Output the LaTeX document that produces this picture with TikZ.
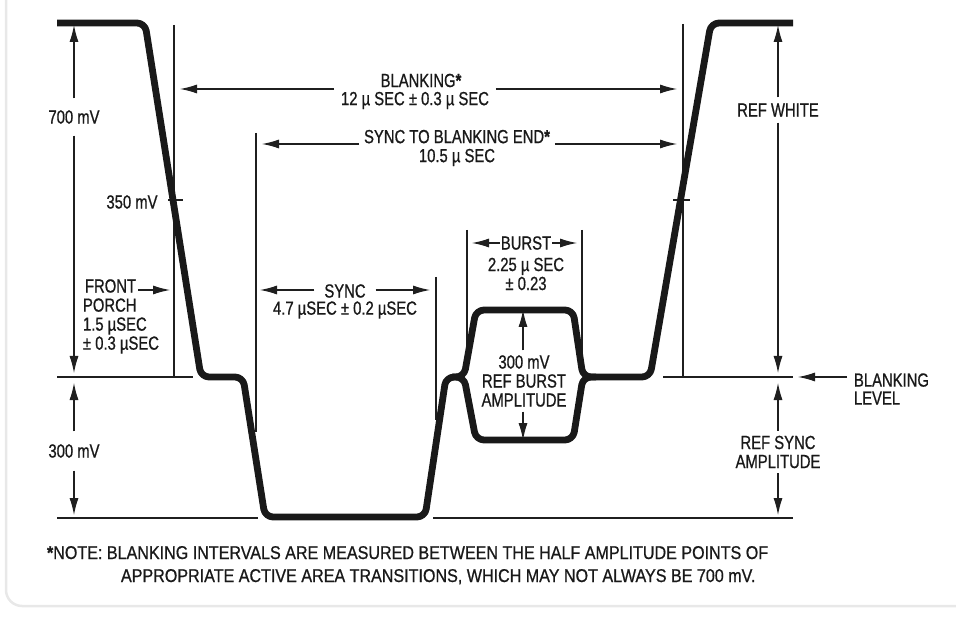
\documentclass[tikz,border=0pt]{standalone}
\usepackage{fontspec}
\setmainfont{Liberation Sans}[FakeStretch=0.78,FakeBold=0.8]
\newfontfamily\notefont{Liberation Sans}[FakeStretch=0.87,FakeBold=0.8]
\usetikzlibrary{arrows.meta}
\begin{document}
\begin{tikzpicture}[x=1pt,y=-1pt,
  wave/.style={line width=6.8pt, rounded corners=8pt, line join=round, draw=black!90},
  thin/.style={line width=1.1pt, draw=black!88},
  arr/.style={thin, -{Latex[length=17pt,width=9pt]}},
  lbl/.style={inner sep=0pt, outer sep=6pt, align=center, text=black!90, font=\fontsize{19}{19}\selectfont},
]
\useasboundingbox (0,0) rectangle (956,620);
% card edge
\draw[black!9, line width=2.5pt, rounded corners=16pt] (6,-30) -- (6,606) -- (990,606);

% ---- thin reference lines
\draw[thin] (57,377) -- (193,377);
\draw[thin] (57,518) -- (258,518);
\draw[thin] (663,377) -- (793,377);
\draw[thin] (433,518) -- (793,518);
\draw[thin] (168,200) -- (183,200);
\draw[thin] (673,200) -- (690,200);
\draw[thin] (174,25) -- (174,377);
\draw[thin] (683,24) -- (683,377);
\draw[thin] (256,133) -- (256,432);
\draw[thin] (436,277) -- (436,420);
\draw[thin] (467,230) -- (467,372);
\draw[thin] (582,230) -- (582,372);

% ---- waveform
\draw[wave] (57,23) -- (145,23) -- (201,377) -- (243,377) -- (265,517) -- (425,517)
  -- (446,377) -- (464,377) -- (476,310) -- (573,310) -- (583,377) -- (650,377)
  -- (711,23) -- (793,23);
\draw[wave] (452,377) -- (464,377) -- (476,440) -- (573,440) -- (583,377) -- (596,377);

% ---- labels
\node[lbl, outer sep=0pt] (blank1) at (421,80.5) {BLANKING{\bfseries*}};
\node[lbl, outer sep=7pt] (blank) at (415,100.5) {12 µ SEC ± 0.3 µ SEC};
\node[lbl, outer sep=5pt] (s2b) at (457,148) {SYNC TO BLANKING END{\bfseries*}\\10.5 µ SEC};
\node[lbl, outer sep=10pt] (sync) at (345,291) {SYNC};
\node[lbl] (syncval) at (345,310) {4.7 µSEC ± 0.2 µSEC};
\node[lbl, outer sep=1pt] (burst) at (526,243) {BURST};
\node[lbl] (burstval) at (526,274) {2.25 µ SEC\\± 0.23};
\node[lbl, outer sep=5pt] (bamp) at (524,381) {300 mV\\REF BURST\\AMPLITUDE};
\node[lbl, outer sep=12pt] (v700) at (74,117) {700 mV};
\node[lbl] (v350) at (132,202) {350 mV};
\node[lbl, anchor=west, outer sep=2pt] (front) at (83,286) {FRONT};
\node[lbl, anchor=west, align=left, outer sep=0pt] (porch) at (83,326) {PORCH\\1.5 µSEC\\± 0.3 µSEC};
\node[lbl, outer sep=13pt] (v300) at (74,451) {300 mV};
\node[lbl, outer sep=6pt] (refw) at (778,110) {REF WHITE};
\node[lbl, outer sep=5pt] (refs) at (778,452) {REF SYNC\\AMPLITUDE};
\node[lbl, anchor=west, align=left, outer sep=7pt, font=\fontsize{19}{18}\selectfont] (blev) at (847,389) {BLANKING\\LEVEL};
\node[lbl, anchor=base west, outer sep=0pt, font=\notefont\fontsize{18.5}{19}\selectfont] (note1) at (47,559) {{\bfseries*}NOTE: BLANKING INTERVALS ARE MEASURED BETWEEN THE HALF AMPLITUDE POINTS OF};
\node[lbl, anchor=base west, outer sep=0pt, font=\notefont\fontsize{18.5}{19}\selectfont] (note2) at (121,582) {APPROPRIATE ACTIVE AREA TRANSITIONS, WHICH MAY NOT ALWAYS BE 700 mV.};

% ---- arrow end coordinates
\coordinate (bL) at (180,89);
\coordinate (bR) at (677,89);
\coordinate (sL) at (262,144);
\coordinate (sR) at (677,144);
\coordinate (yL) at (260,290);
\coordinate (yR) at (430,290);
\coordinate (uL) at (472,243);
\coordinate (uR) at (577,243);
\coordinate (aT) at (523,310);
\coordinate (aB) at (523,440);
\coordinate (wT) at (74,25);
\coordinate (wB) at (74,373);
\coordinate (fR) at (170,290);
\coordinate (tT) at (74,383);
\coordinate (tB) at (74,515);
\coordinate (rT) at (778,25);
\coordinate (rB) at (778,373);
\coordinate (qT) at (778,383);
\coordinate (qB) at (778,515);
\coordinate (lvl) at (798,377);

% ---- dimension arrows
\draw[arr] (blank.west |- bL) -- (bL);
\draw[arr] (blank.east |- bR) -- (bR);
\draw[arr] (s2b.west |- sL) -- (sL);
\draw[arr] (s2b.east |- sR) -- (sR);
\draw[arr] (sync.west |- yL) -- (yL);
\draw[arr] (sync.east |- yR) -- (yR);
\draw[arr] (burst.west |- uL) -- (uL);
\draw[arr] (burst.east |- uR) -- (uR);
\draw[arr] (bamp.north -| aT) -- (aT);
\draw[arr] (bamp.south -| aB) -- (aB);
\draw[arr] (v700.north) -- (wT);
\draw[arr] (v700.south) -- (wB);
\draw[arr] (front.east |- fR) -- (fR);
\draw[arr] (v300.north) -- (tT);
\draw[arr] (v300.south) -- (tB);
\draw[arr] (refw.north) -- (rT);
\draw[arr] (refw.south) -- (rB);
\draw[arr] (refs.north) -- (qT);
\draw[arr] (refs.south) -- (qB);
\draw[arr] (blev.west |- lvl) -- (lvl);
\end{tikzpicture}
\end{document}
